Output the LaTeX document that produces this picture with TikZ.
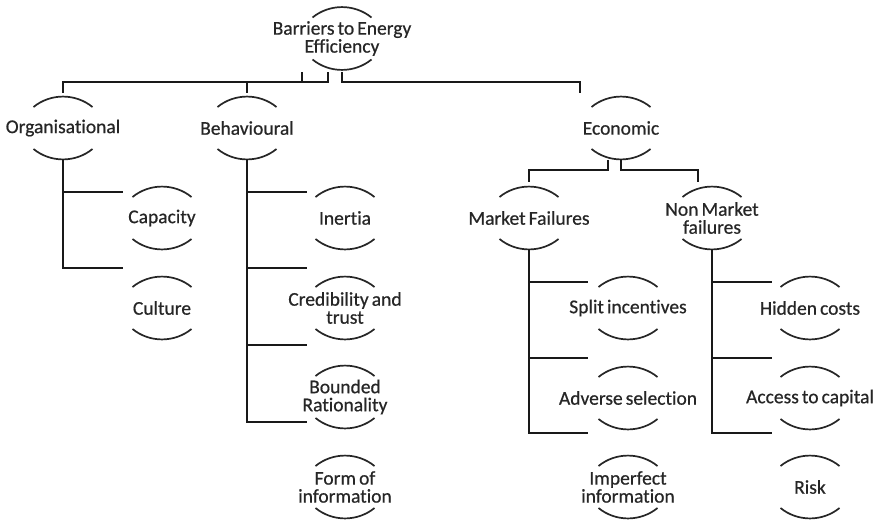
\documentclass[tikz,border=0pt]{standalone}
\usepackage{fontspec}
\setmainfont[Ligatures=NoCommon, WordSpace=0.7, FakeBold=0.6]{Carlito}
\begin{document}
\begin{tikzpicture}[x=1pt,y=-1pt,
  lbl/.style={font=\fontsize{19.5}{18}\selectfont, text=black!85, align=center, inner sep=0pt},
  capline/.style={line width=1.7pt, black!85},
  link/.style={line width=1.8pt, black!90}]
\useasboundingbox (0,0) rectangle (878,520);

% a label framed by an arc above and an arc below
\newcommand\capsnode[4]{%
  \node[lbl] (#1) at (#2,#3) {#4};
  \coordinate (#1-t) at (#2,#3-31);
  \coordinate (#1-b) at (#2,#3+31);
  \draw[capline] (#2-29.5,#3-21) .. controls (#2-12.4,#3-34.9) and (#2+12.4,#3-34.9) .. (#2+29.5,#3-21);
  \draw[capline] (#2-29.5,#3+21) .. controls (#2-12.4,#3+34.9) and (#2+12.4,#3+34.9) .. (#2+29.5,#3+21);
}

% root
\capsnode{root}{342}{38.5}{Barriers to Energy\\Efficiency}
% first level
\capsnode{org}{63}{128}{Organisational}
\capsnode{beh}{247}{128}{Behavioural}
\capsnode{eco}{621}{128}{Economic}
% organisational
\capsnode{cap}{162}{218}{Capacity}
\capsnode{cul}{162}{308}{Culture}
% behavioural
\capsnode{ine}{345}{218}{Inertia}
\capsnode{cre}{345}{308}{Credibility and\\trust}
\capsnode{bou}{345}{397}{Bounded\\Rationality}
\capsnode{for}{345}{487}{Form of\\information}
% economic
\capsnode{mkt}{529}{218}{Market Failures}
\capsnode{nmk}{712}{218}{Non Market\\failures}
\capsnode{spl}{628}{308}{Split incentives}
\capsnode{adv}{628}{398}{Adverse selection}
\capsnode{imp}{628}{487}{Imperfect\\information}
\capsnode{hid}{810}{308}{Hidden costs}
\capsnode{acc}{810}{398}{Access to capital}
\capsnode{ris}{810}{487}{Risk}

% junction points of the tree
\coordinate (bar) at (0,82);
\coordinate (stubL) at (302,72);
\coordinate (stubM) at (328,72);
\coordinate (stubR) at (342,72);
\coordinate (orgIn) at (63,93);
\coordinate (behIn) at (247,93);
\coordinate (ecoIn) at (580,93);

% top level
\draw[link] (stubM) -- (stubM |- bar) -- (orgIn |- bar) -- (orgIn);
\draw[link] (stubL) -- (stubL |- bar);
\draw[link] (behIn |- bar) -- (behIn);
\draw[link] (stubR) -- (stubR |- bar) -- (ecoIn |- bar) -- (ecoIn);

% organisational branches
\coordinate (orgA) at (123,192);
\coordinate (orgB) at (123,268);
\draw[link] (org-b) -- (org-b |- orgB) -- (orgB);
\draw[link] (org-b |- orgA) -- (orgA);

% behavioural branches
\coordinate (behA) at (307,192);
\coordinate (behB) at (307,268);
\coordinate (behC) at (307,345);
\coordinate (behD) at (307,422);
\draw[link] (beh-b) -- (beh-b |- behD) -- (behD);
\draw[link] (beh-b |- behA) -- (behA);
\draw[link] (beh-b |- behB) -- (behB);
\draw[link] (beh-b |- behC) -- (behC);

% economic split
\coordinate (ecoL) at (608,160);
\coordinate (mktIn) at (529,182);
\coordinate (nmkIn) at (698,182);
\draw[link] (ecoL) -- (608,170) -- (mktIn |- 0,170) -- (mktIn);
\draw[link] (eco-b) -- (621,170) -- (nmkIn |- 0,170) -- (nmkIn);

% market failures branches
\coordinate (mktA) at (588,282);
\coordinate (mktB) at (588,358);
\coordinate (mktC) at (588,433);
\draw[link] (mkt-b) -- (mkt-b |- mktC) -- (mktC);
\draw[link] (mkt-b |- mktA) -- (mktA);
\draw[link] (mkt-b |- mktB) -- (mktB);

% non-market failures branches
\coordinate (nmkA) at (772,282);
\coordinate (nmkB) at (772,358);
\coordinate (nmkC) at (772,433);
\draw[link] (nmk-b) -- (nmk-b |- nmkC) -- (nmkC);
\draw[link] (nmk-b |- nmkA) -- (nmkA);
\draw[link] (nmk-b |- nmkB) -- (nmkB);
\end{tikzpicture}
\end{document}
